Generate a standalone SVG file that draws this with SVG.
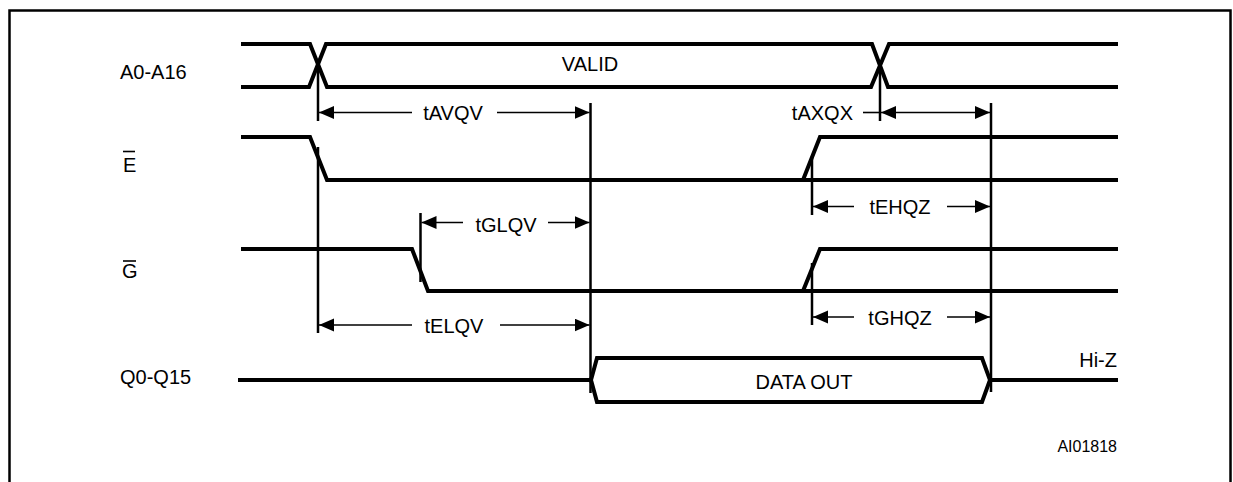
<svg xmlns="http://www.w3.org/2000/svg" width="1233" height="482" viewBox="0 0 1233 482">
<defs>
<style>
.wave{fill:none;stroke:#000;stroke-width:4;stroke-linejoin:miter}
.ref{fill:none;stroke:#000;stroke-width:2.5}
.dim{fill:none;stroke:#000;stroke-width:1.6;marker-end:url(#ah)}
.dim2{fill:none;stroke:#000;stroke-width:1.6;marker-start:url(#ah2);marker-end:url(#ah)}
.seg{fill:none;stroke:#000;stroke-width:1.6}
text{font-family:"Liberation Sans",Arial,sans-serif;font-size:20px;fill:#000}
.ol{stroke:#000;stroke-width:1.6}
</style>
<marker id="ah" markerUnits="userSpaceOnUse" markerWidth="16" markerHeight="14" refX="15" refY="6.5" orient="auto" viewBox="0 0 16 14">
<path d="M0,0 L15,6.5 L0,13 z" fill="#000"/>
</marker>
<marker id="ah2" markerUnits="userSpaceOnUse" markerWidth="16" markerHeight="14" refX="15" refY="6.5" orient="auto-start-reverse" viewBox="0 0 16 14">
<path d="M0,0 L15,6.5 L0,13 z" fill="#000"/>
</marker>
</defs>
<rect x="9.5" y="10.5" width="1221" height="500" fill="#fff" stroke="#000" stroke-width="2.5"/>

<g id="label-addr"><text x="120" y="79">A0-A16</text></g>
<g id="label-e"><text x="123" y="172">E</text><line class="ol" x1="123" y1="151.5" x2="135" y2="151.5"/></g>
<g id="label-g"><text x="122" y="278">G</text><line class="ol" x1="123" y1="261" x2="136" y2="261"/></g>
<g id="label-q"><text x="120" y="384">Q0-Q15</text></g>

<g id="wave-addr">
<path class="wave" d="M241,44 H310 L327,87 H871 L889,44 H1118"/>
<path class="wave" d="M241,87 H309 L326,44 H872 L888,87 H1118"/>
<text x="590" y="71" text-anchor="middle">VALID</text>
</g>
<g id="wave-e">
<path class="wave" d="M241,137 H310 L327,180 H1118"/>
<path class="wave" d="M803,180 L820,137 H1118"/>
</g>
<g id="wave-g">
<path class="wave" d="M241,249 H412 L428,291 H1118"/>
<path class="wave" d="M803,291 L820,249 H1118"/>
</g>
<g id="wave-q">
<path class="wave" d="M238,380 H591"/>
<path class="wave" d="M597,358 H982 L990,380 L982,402 H597 L591,380 Z"/>
<path class="wave" d="M990,380 H1118"/>
<text x="804" y="389" text-anchor="middle">DATA OUT</text>
<text x="1117" y="367" text-anchor="end">Hi-Z</text>
</g>

<g id="connectors">
<line class="ref" x1="318" y1="68" x2="318" y2="121"/>
<line class="ref" x1="318" y1="147" x2="318" y2="333"/>
<line class="ref" x1="590.5" y1="103" x2="590.5" y2="393"/>
<line class="ref" x1="880" y1="68" x2="880" y2="121"/>
<line class="ref" x1="991" y1="103" x2="991" y2="392"/>
<line class="ref" x1="420.5" y1="213" x2="420.5" y2="282"/>
<line class="ref" x1="812" y1="157" x2="812" y2="215"/>
<line class="ref" x1="812" y1="263" x2="812" y2="325"/>

<line class="dim" x1="412" y1="112.5" x2="319" y2="112.5"/>
<line class="dim" x1="497" y1="112.5" x2="589.5" y2="112.5"/>
<text x="453" y="120" text-anchor="middle">tAVQV</text>

<line class="seg" x1="863" y1="112.5" x2="880" y2="112.5"/>
<line class="dim2" x1="881" y1="112.5" x2="990" y2="112.5"/>
<text x="853" y="120" text-anchor="end">tAXQX</text>

<line class="dim" x1="463" y1="222.5" x2="421.5" y2="222.5"/>
<line class="dim" x1="548" y1="222.5" x2="589.5" y2="222.5"/>
<text x="506" y="232" text-anchor="middle">tGLQV</text>

<line class="dim" x1="412" y1="325" x2="319" y2="325"/>
<line class="dim" x1="500" y1="325" x2="589.5" y2="325"/>
<text x="454" y="333" text-anchor="middle">tELQV</text>

<line class="dim" x1="854" y1="206.5" x2="813" y2="206.5"/>
<line class="dim" x1="947" y1="206.5" x2="990" y2="206.5"/>
<text x="900" y="214" text-anchor="middle">tEHQZ</text>

<line class="dim" x1="854" y1="317" x2="813" y2="317"/>
<line class="dim" x1="947" y1="317" x2="990" y2="317"/>
<text x="900" y="325" text-anchor="middle">tGHQZ</text>

<text x="1117" y="452" text-anchor="end" style="font-size:16px">AI01818</text>
</g>
</svg>
